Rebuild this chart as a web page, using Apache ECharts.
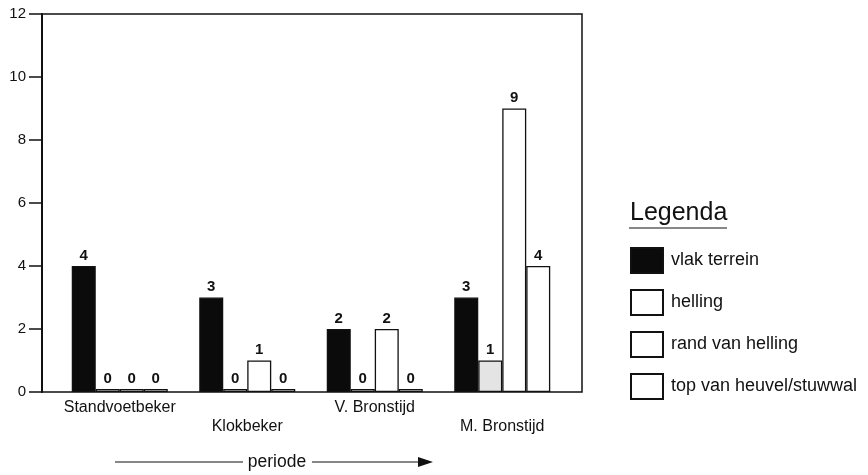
<!DOCTYPE html>
<html>
<head>
<meta charset="utf-8">
<script src="https://cdn.jsdelivr.net/npm/echarts@6/dist/echarts.min.js"></script>
<style>
  html, body { margin: 0; padding: 0; background: #fff; }
  #chart { width: 868px; height: 475px; }
</style>
</head>
<body>
<div id="chart"></div>
<script>
// Aantal vindplaatsen per periode en terreinligging
const periods = ['Standvoetbeker', 'Klokbeker', 'V. Bronstijd', 'M. Bronstijd'];
const vlakTerrein = [4, 3, 2, 3];
const helling = [0, 0, 0, 1];
const randVanHelling = [0, 1, 2, 9];
const topVanHeuvel = [0, 0, 0, 4];
const yTicks = [0, 2, 4, 6, 8, 10, 12];

const FONT = '"Liberation Sans", Arial, sans-serif';
const INK = '#111';

const chart = echarts.init(document.getElementById('chart'), null, { renderer: 'canvas' });

function barSeries(name, data, fill) {
  return {
    name: name,
    type: 'bar',
    xAxisIndex: 1,
    yAxisIndex: 1,
    data: data,
    barWidth: 24,
    barGap: '0%',
    barMinHeight: 3,
    itemStyle: { color: fill, borderColor: INK, borderWidth: 1.3 },
    label: {
      show: true,
      position: 'top',
      distance: 3,
      fontFamily: FONT,
      fontWeight: 'bold',
      fontSize: 15,
      color: INK
    },
    emphasis: { disabled: true }
  };
}

chart.setOption({
  animation: false,
  backgroundColor: '#fff',
  textStyle: { fontFamily: FONT },
  title: {
    text: 'Legenda',
    left: 625,
    top: 196,
    textStyle: { fontFamily: FONT, fontWeight: 'normal', fontSize: 25, color: INK }
  },
  legend: {
    orient: 'vertical',
    left: 625,
    top: 242,
    icon: 'rect',
    itemWidth: 32,
    itemHeight: 25,
    itemGap: 15,
    selectedMode: false,
    textStyle: { fontFamily: FONT, fontSize: 18, color: INK, padding: [0, 0, 0, 3] },
    data: [
      { name: 'vlak terrein' },
      { name: 'helling', itemStyle: { color: '#ffffff' } },
      { name: 'rand van helling' },
      { name: 'top van heuvel/stuwwal' }
    ]
  },
  grid: [
    { left: 42, top: 14, width: 540, height: 378, show: true, borderColor: INK, borderWidth: 1.5, backgroundColor: 'transparent' },
    { left: 56, top: 14, width: 510, height: 378 }
  ],
  xAxis: [
    { gridIndex: 0, type: 'value', min: 0, max: 1, show: false },
    {
      gridIndex: 1,
      type: 'category',
      data: periods,
      axisLine: { show: false },
      axisTick: { show: false },
      axisLabel: {
        interval: 0,
        margin: 6,
        fontFamily: FONT,
        fontSize: 16,
        lineHeight: 19,
        color: INK,
        formatter: function (v, i) { return i % 2 ? '\n' + v : v; }
      }
    }
  ],
  yAxis: [
    {
      gridIndex: 0,
      type: 'value',
      min: yTicks[0],
      max: yTicks[yTicks.length - 1],
      interval: 2,
      axisLine: { show: true, lineStyle: { color: INK, width: 2 } },
      axisTick: { show: true, length: 13, lineStyle: { color: INK, width: 1.5 } },
      axisLabel: { fontFamily: FONT, fontSize: 15, color: INK, margin: 16 },
      splitLine: { show: false }
    },
    { gridIndex: 1, type: 'value', min: 0, max: 12, show: false }
  ],
  series: [
    barSeries('vlak terrein', vlakTerrein, '#0b0b0b'),
    barSeries('helling', helling, '#e4e4e4'),
    barSeries('rand van helling', randVanHelling, '#ffffff'),
    barSeries('top van heuvel/stuwwal', topVanHeuvel, '#ffffff')
  ],
  graphic: [
    // underline of the legend heading
    { type: 'line', shape: { x1: 629, y1: 228, x2: 727, y2: 228 }, style: { stroke: INK, lineWidth: 1 } },
    // "periode" arrow below the category axis
    { type: 'line', shape: { x1: 115, y1: 462, x2: 243, y2: 462 }, style: { stroke: INK, lineWidth: 1.2 } },
    { type: 'text', x: 277, y: 462, style: { text: 'periode', fontFamily: FONT, fontSize: 17.5, fill: INK, align: 'center', verticalAlign: 'middle' } },
    { type: 'line', shape: { x1: 312, y1: 462, x2: 420, y2: 462 }, style: { stroke: INK, lineWidth: 1.2 } },
    { type: 'polygon', shape: { points: [[418, 457], [433, 462], [418, 467]] }, style: { fill: INK } }
  ]
});
</script>
</body>
</html>
